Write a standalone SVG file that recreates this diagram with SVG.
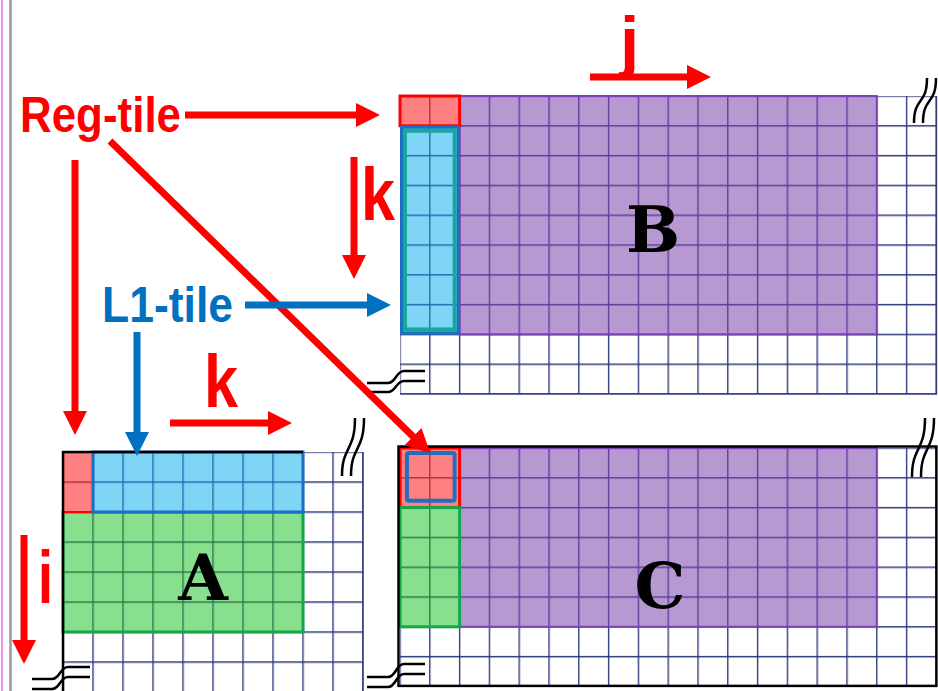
<svg xmlns="http://www.w3.org/2000/svg" width="938" height="691" viewBox="0 0 938 691">
<style>
.lbl{font-family:"Liberation Sans",Arial,sans-serif;font-weight:bold}
.red{fill:#ff0000}
.blue{fill:#0070c0}
.big{font-family:"DejaVu Serif","Liberation Serif",serif;font-weight:bold;font-size:64px;fill:#000;text-anchor:middle}
.arR{stroke:#ff0000;stroke-width:7;fill:none;marker-end:url(#headR)}
.arB{stroke:#0070c0;stroke-width:7;fill:none;marker-end:url(#headB)}
.brk{stroke:#000;stroke-width:2.5;fill:none}
.edge{stroke:#2e3b7c;stroke-width:1.6;fill:none}
</style>
<defs>
  <!-- one 30x30 cell per tile; grid line on the left/top edge -->
  <pattern id="cWhite" width="30" height="30" x="-0.7" y="-0.7" patternUnits="userSpaceOnUse">
    <rect width="30" height="30" fill="#ffffff"/>
    <path d="M0,0.7H30M0.7,0V30" stroke="#2e3b7c" stroke-width="1.4"/>
  </pattern>
  <pattern id="cPurple" width="30" height="30" x="-0.7" y="-0.7" patternUnits="userSpaceOnUse">
    <rect width="30" height="30" fill="#b799d2"/>
    <path d="M0,0.7H30M0.7,0V30" stroke="#5b3e9c" stroke-width="1.4"/>
  </pattern>
  <pattern id="cSalmon" width="30" height="30" x="-0.7" y="-0.7" patternUnits="userSpaceOnUse">
    <rect width="30" height="30" fill="#ff8080"/>
    <path d="M0,0.7H30M0.7,0V30" stroke="#a8334a" stroke-width="1.4"/>
  </pattern>
  <pattern id="cSky" width="30" height="30" x="-0.7" y="-0.7" patternUnits="userSpaceOnUse">
    <rect width="30" height="30" fill="#7fd5f6"/>
    <path d="M0,0.7H30M0.7,0V30" stroke="#1f6db0" stroke-width="1.4"/>
  </pattern>
  <pattern id="cGreen" width="30" height="30" x="-0.7" y="-0.7" patternUnits="userSpaceOnUse">
    <rect width="30" height="30" fill="#88e08e"/>
    <path d="M0,0.7H30M0.7,0V30" stroke="#2b7a48" stroke-width="1.4"/>
  </pattern>
  <marker id="headR" viewBox="0 -12 24 24" refX="1" refY="0" markerWidth="24" markerHeight="24" markerUnits="userSpaceOnUse" orient="auto">
    <path d="M0,-12L24,0L0,12z" fill="#ff0000"/>
  </marker>
  <marker id="headB" viewBox="0 -12 24 24" refX="1" refY="0" markerWidth="24" markerHeight="24" markerUnits="userSpaceOnUse" orient="auto">
    <path d="M0,-12L24,0L0,12z" fill="#0070c0"/>
  </marker>
</defs>

<!-- page margin rules -->
<line x1="2" y1="0" x2="2" y2="691" stroke="#f090f0" stroke-width="2"/>
<line x1="10.5" y1="0" x2="10.5" y2="691" stroke="#9a9a9a" stroke-width="2.5"/>

<!-- matrix B -->
<g id="matrixB">
  <g transform="translate(400,96) scale(0.9933)">
    <rect width="540" height="300" fill="url(#cWhite)"/>
    <rect x="60" width="420" height="240" fill="url(#cPurple)"/>
    <rect x="60" width="420" height="240" fill="none" stroke="#7a44b4" stroke-width="2"/>
    <path class="edge" d="M540,0V300H0"/>
    <rect width="60" height="30" fill="url(#cSalmon)" stroke="#ff0000" stroke-width="3"/>
    <rect y="30" width="60" height="210" fill="url(#cSky)"/>
    <rect x="1.5" y="31.5" width="57" height="207" fill="none" stroke="#1b6fc2" stroke-width="3"/>
    <rect x="5" y="35" width="50" height="200" fill="none" stroke="#16a89c" stroke-width="4"/>
  </g>
  <text class="big" x="653" y="252">B</text>
  <path class="brk" d="M914,123C914,96 927,106 927,78M923,123C923,96 936,106 936,78"/>
  <path class="brk" d="M367,383H388C396,383 396,371 404,371H425M367,392H388C396,392 396,381 404,381H425"/>
</g>

<!-- matrix C -->
<g id="matrixC">
  <g transform="translate(400,448) scale(0.9933)">
    <rect width="540" height="240" fill="url(#cWhite)"/>
    <rect x="60" width="420" height="180" fill="url(#cPurple)"/>
    <rect x="60" width="420" height="180" fill="none" stroke="#7a44b4" stroke-width="2"/>
    <rect width="60" height="60" fill="url(#cSalmon)" stroke="#ff0000" stroke-width="3"/>
    <rect y="60" width="60" height="120" fill="url(#cGreen)" stroke="#12a84a" stroke-width="3"/>
    <rect x="7" y="5" width="48" height="48" rx="2" fill="none" stroke="#1f6fc0" stroke-width="4"/>
    <rect x="-1.5" y="-1.5" width="541.5" height="241" fill="none" stroke="#000" stroke-width="2.5"/>
  </g>
  <text class="big" x="660" y="608">C</text>
  <path class="brk" d="M912,477C912,446 925,452 925,418M921,477C921,446 934,452 934,418"/>
  <path class="brk" d="M367,677H388C396,677 396,664 404,664H425M367,687H388C396,687 396,674 404,674H425"/>
</g>

<!-- matrix A -->
<g id="matrixA">
  <g transform="translate(63,452)">
    <rect width="300" height="250" fill="url(#cWhite)"/>
    <path class="edge" d="M300,0V250"/>
    <rect y="60" width="240" height="120" fill="url(#cGreen)" stroke="#12a84a" stroke-width="3"/>
    <rect width="30" height="60" fill="url(#cSalmon)" stroke="#ff0000" stroke-width="2"/>
    <rect x="30" width="210" height="60" fill="url(#cSky)" stroke="#1b6fc2" stroke-width="3"/>
    <path d="M0,250V0H240" fill="none" stroke="#000" stroke-width="2.5"/>
  </g>
  <text class="big" x="203" y="600">A</text>
  <path class="brk" d="M342,476C342,446 355,452 355,418M351,476C351,446 364,452 364,418"/>
  <path class="brk" d="M32,679H52C60,679 60,667 68,667H90M32,689H52C60,689 60,677 68,677H90"/>
</g>

<!-- labels -->
<g id="regTile">
  <text class="lbl red" x="20" y="132" font-size="50" textLength="161" lengthAdjust="spacingAndGlyphs">Reg-tile</text>
</g>
<g id="l1Tile">
  <text class="lbl blue" x="102" y="322" font-size="50" textLength="131" lengthAdjust="spacingAndGlyphs">L1-tile</text>
</g>
<g id="labelJ">
  <text class="lbl red" x="620" y="65" font-size="69">j</text>
</g>
<g id="labelKB">
  <text class="lbl red" x="361" y="220" font-size="75" textLength="34" lengthAdjust="spacingAndGlyphs">k</text>
</g>
<g id="labelKA">
  <text class="lbl red" x="204" y="407" font-size="75" textLength="34" lengthAdjust="spacingAndGlyphs">k</text>
</g>
<g id="labelI">
  <text class="lbl red" x="38" y="603" font-size="75" textLength="15" lengthAdjust="spacingAndGlyphs">i</text>
</g>

<!-- connectors -->
<g id="connectors">
  <path class="arR" d="M185,115H357"/>
  <path class="arR" d="M75,160V412"/>
  <path class="arR" d="M110,141L413.8,437.2"/>
  <path class="arR" d="M354,157V256"/>
  <path class="arR" d="M590,77H688"/>
  <path class="arB" d="M245,305H368"/>
  <path class="arB" d="M137,332V433"/>
  <path class="arR" d="M170,423H269"/>
  <path class="arR" d="M24,535V641"/>
</g>
</svg>
